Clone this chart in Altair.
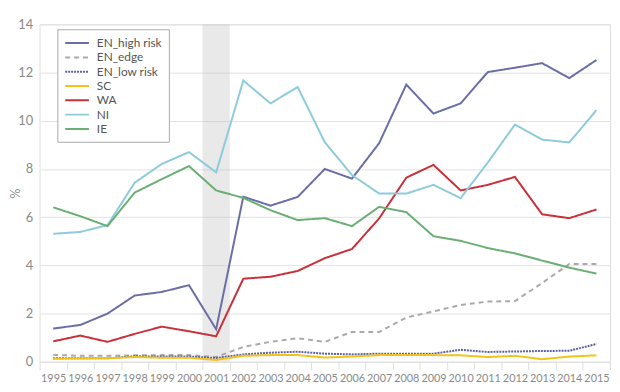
import altair as alt
import pandas as pd

years = [str(y) for y in range(1995, 2016)]

en_high_risk = [1.38, 1.53, 2.0, 2.75, 2.9, 3.18, 1.35, 6.85, 6.48, 6.84, 8.0, 7.6, 9.07, 11.5, 10.3, 10.72, 12.02, 12.2, 12.39, 11.77, 12.52]
en_edge = [0.29, 0.25, 0.25, 0.27, 0.28, 0.28, 0.2, 0.62, 0.83, 0.98, 0.83, 1.24, 1.24, 1.84, 2.09, 2.36, 2.5, 2.52, 3.27, 4.06, 4.06]
en_low_risk = [0.15, 0.15, 0.15, 0.23, 0.22, 0.22, 0.16, 0.31, 0.38, 0.42, 0.34, 0.31, 0.34, 0.34, 0.34, 0.5, 0.41, 0.43, 0.45, 0.46, 0.74]
sc = [0.13, 0.14, 0.15, 0.2, 0.17, 0.17, 0.08, 0.25, 0.28, 0.28, 0.18, 0.22, 0.28, 0.28, 0.28, 0.27, 0.2, 0.25, 0.11, 0.22, 0.27]
wa = [0.85, 1.09, 0.83, 1.16, 1.46, 1.27, 1.06, 3.45, 3.53, 3.77, 4.3, 4.68, 5.95, 7.64, 8.17, 7.11, 7.34, 7.67, 6.12, 5.96, 6.32]
ni = [5.31, 5.39, 5.67, 7.43, 8.21, 8.7, 7.86, 11.67, 10.72, 11.4, 9.11, 7.75, 6.98, 6.98, 7.34, 6.79, 8.27, 9.84, 9.22, 9.1, 10.44]
ie = [6.41, 6.04, 5.63, 7.02, 7.58, 8.12, 7.11, 6.8, 6.29, 5.88, 5.96, 5.63, 6.43, 6.21, 5.21, 5.02, 4.72, 4.5, 4.2, 3.91, 3.66]

series_names = ["EN_high risk", "EN_edge", "EN_low risk", "SC", "WA", "NI", "IE"]
series_values = [en_high_risk, en_edge, en_low_risk, sc, wa, ni, ie]
series_colors = ["#6a6ea6", "#aaaaaa", "#5b5f9f", "#f2c318", "#c9303a", "#8ecbda", "#6aae74"]
series_dashes = [[1, 0], [5, 4], [2, 1], [1, 0], [1, 0], [1, 0], [1, 0]]

shaded_year = ["2001"]
y_ticks = [0, 2, 4, 6, 8, 10, 12, 14]

rows = []
for name, vals in zip(series_names, series_values):
    for yr, v in zip(years, vals):
        rows.append({"year": yr, "series": name, "value": v})
df = pd.DataFrame(rows)

W, H = 578, 342
FONT = "Lato"

x_enc = alt.X(
    "year:O",
    sort=years,
    scale=alt.Scale(type="band", domain=years, paddingInner=0, paddingOuter=0),
    axis=alt.Axis(
        title=None,
        tickBand="extent",
        labelAngle=0,
        labelOverlap=False,
        labelFontSize=11,
        labelColor="#8a8a8a",
        labelPadding=3,
        tickColor="#dddddd",
        tickSize=8,
        domainColor="#dddddd",
        grid=False,
        labelFont=FONT,
    ),
)

y_enc = alt.Y(
    "value:Q",
    scale=alt.Scale(domain=[0, 14], nice=False, zero=True),
    axis=alt.Axis(
        values=y_ticks,
        title="%",
        titleFontSize=13,
        titleFontWeight="normal",
        titleColor="#8a8a8a",
        titleX=-17,
        titleFont=FONT,
        labelFontSize=13,
        labelColor="#8a8a8a",
        labelFont=FONT,
        labelPadding=7,
        ticks=False,
        domainColor="#eeeeee",
        gridColor="#e2e2e2",
    ),
)

shade = alt.Chart(pd.DataFrame({"year": shaded_year})).mark_rect(
    color="#bbbbbb", opacity=0.32
).encode(x=x_enc, y=alt.value(0), y2=alt.value(H))

lines = alt.Chart(df).mark_line(strokeWidth=2).encode(
    x=x_enc,
    y=y_enc,
    color=alt.Color(
        "series:N",
        sort=series_names,
        scale=alt.Scale(domain=series_names, range=series_colors),
        legend=alt.Legend(
            title=None,
            orient="none",
            legendX=18,
            legendY=5,
            symbolType="M-1,0H3",
            symbolStrokeWidth=2,
            symbolSize=144,
            labelFontSize=12,
            labelColor="#555555",
            labelFont=FONT,
            labelOffset=19,
            rowPadding=1.5,
            padding=7,
            strokeColor="#aaaaaa",
            fillColor="#ffffff",
        ),
    ),
    strokeDash=alt.StrokeDash(
        "series:N",
        sort=series_names,
        scale=alt.Scale(domain=series_names, range=series_dashes),
        legend=None,
    ),
    order=alt.Order("year:O"),
)

chart = (
    alt.layer(shade, lines)
    .properties(
        width=W,
        height=H,
        autosize=alt.AutoSizeParams(type="none"),
        padding={"left": 32, "top": 14, "right": 2, "bottom": 28},
    )
    .configure_view(stroke=None)
    .configure(font=FONT)
)

chart.save("out.html", embed_options={"renderer": "svg", "actions": False})
